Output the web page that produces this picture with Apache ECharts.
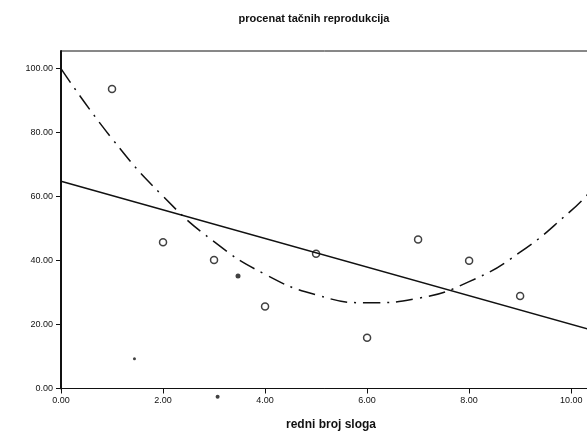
<!DOCTYPE html>
<html>
<head>
<meta charset="utf-8">
<script src="https://cdn.jsdelivr.net/npm/echarts@6/dist/echarts.min.js"></script>
<style>
  html, body { margin: 0; padding: 0; background: #fff; }
  #chart { width: 587px; height: 431px; }
</style>
</head>
<body>
<div id="chart"></div>
<script>
// observed values (open circles)
var obsX = [1, 2, 3, 4, 5, 6, 7, 8, 9];
var obsY = [93.6, 45.7, 40.2, 25.6, 42.1, 15.9, 46.6, 39.9, 28.9];

// small filled dots
var dotX = [3.47, 1.44, 3.07];
var dotY = [35.2, 9.3, -2.6];
var dotSize = [5, 3, 4];

var linX = [0, 10.35];
var linY = [64.8, 18.5];

// quadratic fit
var quadX = [0, 1, 2, 3, 4, 5, 6, 7, 8, 9, 10, 10.35];
var quadY = [100, 78.1, 60.1, 45.9, 35.7, 29.3, 26.8, 28.2, 33.4, 42.6, 55.6, 61.1];

var font = "Liberation Sans";
var ink = "#111";

function pairs(xs, ys) {
  return xs.map(function (x, i) { return [x, ys[i]]; });
}

var myChart = echarts.init(document.getElementById("chart"));
var option = {
  animation: false,
  title: {
    text: "procenat tačnih reprodukcija",
    left: 309,
    top: 8,
    textAlign: "center",
    textStyle: { fontFamily: font, fontSize: 11, fontWeight: "bold", color: ink }
  },
  grid: {
    left: 61, top: 51, right: -2, bottom: 42.5,
    outerBoundsMode: "none",
    containLabel: false,
    show: true, borderColor: ink, borderWidth: 1
  },
  xAxis: {
    type: "value",
    min: 0, max: 10.35, interval: 2,
    splitLine: { show: false },
    axisLine: { lineStyle: { color: ink, width: 1 } },
    axisTick: { length: 5, lineStyle: { color: ink } },
    axisLabel: {
      margin: 8, color: ink, fontFamily: font, fontSize: 9,
      showMaxLabel: false,
      formatter: function (v) { return v.toFixed(2); }
    },
    name: "redni broj sloga",
    nameLocation: "middle",
    nameGap: 30,
    nameTextStyle: { fontFamily: font, fontSize: 12, fontWeight: "bold", color: ink, padding: [0, 0, 0, 12] }
  },
  yAxis: {
    type: "value",
    min: 0, max: 105.5, interval: 20,
    splitLine: { show: false },
    axisLine: { show: true, lineStyle: { color: ink, width: 2 } },
    axisTick: { show: true, length: 5, lineStyle: { color: ink } },
    axisLabel: {
      margin: 8, color: ink, fontFamily: font, fontSize: 9,
      showMaxLabel: false,
      formatter: function (v) { return v.toFixed(2); }
    }
  },
  series: [
    {
      type: "line",
      data: pairs(linX, linY),
      symbol: "none",
      lineStyle: { color: ink, width: 1.5 }
    },
    {
      type: "line",
      data: pairs(quadX, quadY),
      smooth: true,
      symbol: "none",
      lineStyle: { color: ink, width: 1.5, type: [17, 7, 2, 7] }
    },
    {
      type: "scatter",
      data: pairs(obsX, obsY),
      symbol: "circle",
      symbolSize: 7,
      itemStyle: { color: "#fff", borderColor: ink, borderWidth: 1.5 }
    },
    {
      type: "scatter",
      clip: false,
      data: pairs(dotX, dotY).map(function (p, i) {
        return { value: p, symbolSize: dotSize[i] };
      }),
      symbol: "circle",
      itemStyle: { color: ink }
    }
  ]
};
option && myChart.setOption(option);
</script>
</body>
</html>
